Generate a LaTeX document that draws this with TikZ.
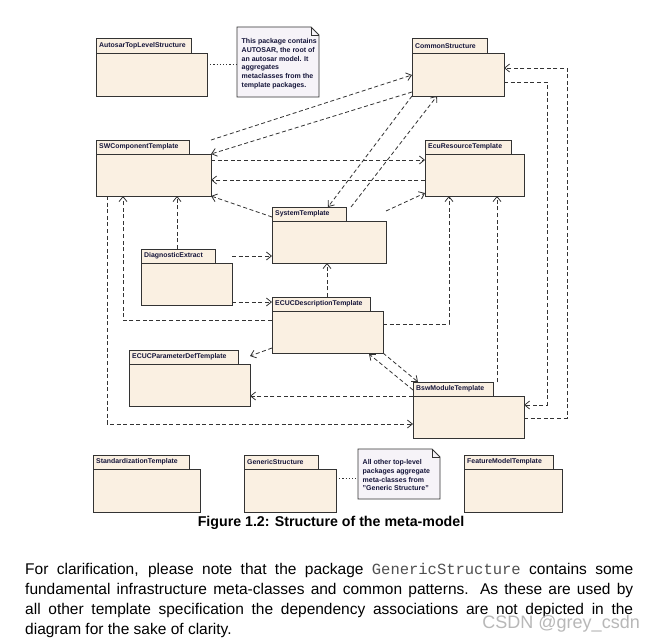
\documentclass[tikz,border=0pt]{standalone}
\usepackage{fontspec}
\setmainfont{Liberation Sans}
\newfontfamily\codefont{Liberation Mono}
\usetikzlibrary{arrows.meta,calc}
\definecolor{pkgfill}{HTML}{FAF0E2}
\definecolor{notefill}{HTML}{F6F3F8}
\definecolor{edge}{HTML}{333333}
\definecolor{labelcol}{HTML}{15153A}
\definecolor{codegray}{HTML}{505050}
\definecolor{wmgray}{HTML}{B8B8B8}
\tikzset{
  pkgtab/.style={draw=edge, fill=pkgfill, line width=1pt, minimum height=14pt, inner sep=0pt, outer sep=0pt},
  pkgbody/.style={draw=edge, fill=pkgfill, line width=1pt, inner sep=0pt, outer sep=0pt},
  pkglabel/.style={font=\fontsize{6.9}{7.5}\selectfont\bfseries, text=labelcol, inner sep=0pt, anchor=west},
  dep/.style={draw=edge, line width=0.8pt, dash pattern=on 4pt off 2.6pt,
    -{Straight Barb[length=5pt,width=8pt,line width=0.8pt]}},
  anchorline/.style={draw=edge, line width=0.8pt, dash pattern=on 1.2pt off 2pt},
  notebox/.style={draw=edge, fill=notefill, line width=0.8pt},
  notetext/.style={font=\fontsize{7}{8.9}\selectfont\bfseries, text=labelcol, align=left, inner sep=0pt, anchor=north west},
  para/.style={font=\fontsize{15.5}{20}\selectfont, inner sep=0pt, anchor=base west},
}
\newcommand\umlpkg[7]{%
  \node[pkgtab, minimum width=#4pt, anchor=north west] (#1-tab) at (#2,#3) {};
  \node[pkgbody, minimum width=#5pt, minimum height=#6pt, anchor=north west] (#1) at (#2,{#3+14}) {};
  \node[pkglabel] (#1-lbl) at ($(#1-tab.west)+(3,0)$) {#7};
}
\newcommand\umlnote[7]{%
  \node[minimum width=#4pt, minimum height=#5pt, anchor=north west, inner sep=0pt, outer sep=0pt] (#1) at (#2,#3) {};
  \draw[notebox] (#1.north west) -- ($(#1.north east)+(-8,0)$) -- ($(#1.north east)+(0,8)$) -- (#1.south east) -- (#1.south west) -- cycle;
  \draw[notebox, fill=none] ($(#1.north east)+(-8,0)$) -- ($(#1.north east)+(-8,8)$) -- ($(#1.north east)+(0,8)$);
  \node[notetext] (#1-txt) at ($(#1.north west)+(4.5,#6)$) {#7};
}
\begin{document}
\begin{tikzpicture}[x=1pt,y=-1pt]
\useasboundingbox (0,0) rectangle (652,642);
\fill[white] (0,0) rectangle (652,642);

% packages
\umlpkg{atls}{96}{39}{95}{111}{43}{AutosarTopLevelStructure}
\umlpkg{cs}{412}{39}{75}{92}{43}{CommonStructure}
\umlpkg{sw}{96}{140}{93}{115}{42}{SWComponentTemplate}
\umlpkg{ecur}{425}{140}{86}{99}{42}{EcuResourceTemplate}
\umlpkg{sys}{272}{207}{74}{114}{42}{SystemTemplate}
\umlpkg{diag}{141}{249}{74}{91}{42}{DiagnosticExtract}
\umlpkg{ecucd}{272}{297}{98}{111}{42}{ECUCDescriptionTemplate}
\umlpkg{ecucp}{129}{350}{109}{121}{42}{ECUCParameterDefTemplate}
\umlpkg{bsw}{413}{382}{80}{111}{42}{BswModuleTemplate}
\umlpkg{std}{93}{455}{96}{107}{43}{StandardizationTemplate}
\umlpkg{gen}{244}{455}{74}{92}{43}{GenericStructure}
\umlpkg{fm}{464}{455}{89}{98}{43}{FeatureModelTemplate}

% notes
\umlnote{n1}{237}{27}{82}{70}{11}{This package contains\\AUTOSAR, the root of\\an autosar model. It\\aggregates\\metaclasses from the\\template packages.}
\umlnote{n2}{358}{449}{82}{50}{10}{All other top-level\\packages aggregate\\meta-classes from\\"Generic Structure"}

\draw[anchorline] ($(atls.north east)+(0,11)$) -- (n1.west |- 0,64);
\draw[anchorline] ($(gen.north east)+(0,9)$) -- (n2.west |- 0,478);

% dependencies
\draw[dep] (sw.north east |- sw-tab.north) -- ($(cs.north west)+(0,22)$);
\draw[dep] ($(cs.south west)+(0,-4)$) -- (sw.north east);
\draw[dep] ($(sw.north east)+(0,6)$) -- ($(ecur.north west)+(0,6)$);
\draw[dep] ($(ecur.north west)+(0,26)$) -- ($(sw.north east)+(0,26)$);
\draw[dep] ($(sys-tab.north west)+(0,10)$) -- (sw.south east);
\draw[dep] (cs.south west) -- ($(sys-tab.north west)+(56,0)$);
\draw[dep] ($(sys-tab.north east)+(5,0)$) -- ($(cs.south west)+(25,0)$);
\draw[dep] ($(sys.north east)+(0,-10)$) -- ($(ecur.south west)+(0,-3)$);
\draw[dep] (107,0 |- sw.south) -- (107,424) -- (bsw.west |- 0,424);
\draw[dep] ($(ecucd.north west)+(0,9)$) -| (123,0 |- sw.south);
\draw[dep] (177,0 |- diag-tab.north) -- (177,0 |- sw.south);
\draw[dep] ($(diag.north east)+(0,-7)$) -- ($(sys.north west)+(0,35)$);
\draw[dep] ($(diag.south east)+(0,-3)$) -- ($(ecucd-tab.north west)+(0,5)$);
\draw[dep] ($(ecucd-tab.north west)+(55,0)$) -- (327,0 |- sys.south);
\draw[dep] ($(ecucd.north east)+(0,13)$) -| (449,0 |- ecur.south);
\draw[dep] ($(ecucd.south west)+(0,-5)$) -- ($(ecucp.north east)+(0,-8)$);
\draw[dep] (ecucd.south east) -- ($(bsw-tab.north west)+(5,0)$);
\draw[dep] ($(bsw-tab.south west)+(0,-6)$) -- ($(ecucd.south east)+(-14,1)$);
\draw[dep] (bsw.north west) -- (ecucp.east |- bsw.north west);
\draw[dep] ($(cs.north east)+(0,29)$) -| (547,405) -- (bsw.east |- 0,405);
\draw[dep] (bsw.east |- 0,418) -| (567,68) -- (cs.east |- 0,68);
\draw[dep] (497,0 |- bsw-tab.north) -- (497,0 |- ecur.south);

% caption
\node[font=\fontsize{14.2}{16}\selectfont\bfseries, inner sep=0pt] (cap) at (331,523) {Figure 1.2: Structure of the meta-model};

% paragraph
\node[para] (p1) at (25,574) {\makebox[608pt][s]{For clarification, please note that the package {\codefont\color{codegray}GenericStructure} contains some}};
\node[para] (p2) at (25,594) {\makebox[608pt][s]{fundamental infrastructure meta-classes and common patterns. As these are used by}};
\node[para] (p3) at (25,614) {\makebox[608pt][s]{all other template specification the dependency associations are not depicted in the}};
\node[para] (p4) at (25,634) {diagram for the sake of clarity.};

% watermark
\node[font=\fontsize{18}{20}\selectfont, text=wmgray, inner sep=0pt, anchor=base east] (wm) at (640,628) {CSDN @grey\_csdn};
\end{tikzpicture}
\end{document}
